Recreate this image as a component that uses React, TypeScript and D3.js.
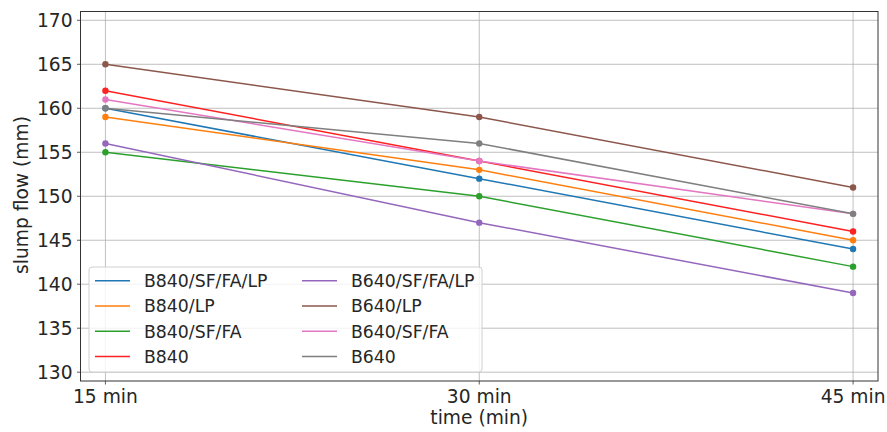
import React from "react";
import * as d3 from "d3";

const times = [15, 30, 45];
const timeLabels = ["15 min", "30 min", "45 min"];
const yTicks = [130, 135, 140, 145, 150, 155, 160, 165, 170];

const seriesNames = [
  "B840/SF/FA/LP",
  "B840/LP",
  "B840/SF/FA",
  "B840",
  "B640/SF/FA/LP",
  "B640/LP",
  "B640/SF/FA",
  "B640",
];
const b840SfFaLp = [160, 152, 144];
const b840Lp = [159, 153, 145];
const b840SfFa = [155, 150, 142];
const b840 = [162, 154, 146];
const b640SfFaLp = [156, 147, 139];
const b640Lp = [165, 159, 151];
const b640SfFa = [161, 154, 148];
const b640 = [160, 156, 148];
const seriesValues = [b840SfFaLp, b840Lp, b840SfFa, b840, b640SfFaLp, b640Lp, b640SfFa, b640];
const seriesColors = [
  "#1f77b4",
  "#ff7f0e",
  "#2ca02c",
  "#ff2020",
  "#9467bd",
  "#8c564b",
  "#e377c2",
  "#7f7f7f",
];

const W = 887;
const H = 432;
const M = { left: 80.5, right: 878, top: 11.5, bottom: 381 };
const FONT = "DejaVu Sans, sans-serif";
const TICK_FS = 18.67;
const LEGEND_FS = 17.3;

export default function App() {
  const x = d3.scaleLinear().domain([14, 46]).range([M.left, M.right]);
  const y = d3.scaleLinear().domain([129, 171]).range([M.bottom, M.top]);
  const line = d3
    .line<number>()
    .x((_, i) => x(times[i]))
    .y((v) => y(v));

  const legendX = 89;
  const legendY = 267;
  const rowH = 25.3;

  return (
    <svg width={W} height={H} style={{ position: "absolute", left: 0, top: 0, background: "#fff" }}>
      {/* grid */}
      <g stroke="#b0b0b0" strokeWidth={0.8}>
        {yTicks.map((t) => (
          <line key={"gy" + t} x1={M.left} x2={M.right} y1={y(t)} y2={y(t)} />
        ))}
        {times.map((t) => (
          <line key={"gx" + t} x1={x(t)} x2={x(t)} y1={M.top} y2={M.bottom} />
        ))}
      </g>

      {/* series */}
      {seriesValues.map((vals, s) => (
        <g key={seriesNames[s]}>
          <path d={line(vals) ?? ""} fill="none" stroke={seriesColors[s]} strokeWidth={1.5} />
          {vals.map((v, i) => (
            <circle key={i} cx={x(times[i])} cy={y(v)} r={3.2} fill={seriesColors[s]} />
          ))}
        </g>
      ))}

      {/* spines */}
      <rect
        x={M.left}
        y={M.top}
        width={M.right - M.left}
        height={M.bottom - M.top}
        fill="none"
        stroke="#333"
        strokeWidth={1}
      />

      {/* y ticks */}
      {yTicks.map((t) => (
        <g key={"ty" + t}>
          <line x1={M.left - 3.5} x2={M.left} y1={y(t)} y2={y(t)} stroke="#333" strokeWidth={0.8} />
          <text
            x={M.left - 8}
            y={y(t)}
            dy="0.36em"
            textAnchor="end"
            fontFamily={FONT}
            fontSize={TICK_FS}
            fill="#262626"
          >
            {t}
          </text>
        </g>
      ))}

      {/* x ticks */}
      {times.map((t, i) => (
        <g key={"tx" + t}>
          <line x1={x(t)} x2={x(t)} y1={M.bottom} y2={M.bottom + 3.5} stroke="#333" strokeWidth={0.8} />
          <text x={x(t)} y={403} textAnchor="middle" fontFamily={FONT} fontSize={TICK_FS} fill="#262626">
            {timeLabels[i]}
          </text>
        </g>
      ))}

      {/* axis labels */}
      <text x={(M.left + M.right) / 2} y={424} textAnchor="middle" fontFamily={FONT} fontSize={TICK_FS} fill="#262626">
        time (min)
      </text>
      <text
        transform={`translate(28,195) rotate(-90)`}
        textAnchor="middle"
        fontFamily={FONT}
        fontSize={TICK_FS}
        fill="#262626"
      >
        slump flow (mm)
      </text>

      {/* legend */}
      <rect
        x={legendX}
        y={legendY}
        width={393}
        height={105}
        rx={3}
        fill="#fff"
        fillOpacity={0.8}
        stroke="#d0d0d0"
        strokeWidth={1}
      />
      {seriesNames.map((name, s) => {
        const col = Math.floor(s / 4);
        const row = s % 4;
        const lx = col === 0 ? 95 : 302;
        const ly = 280.7 + row * rowH;
        return (
          <g key={"lg" + name}>
            <line x1={lx} x2={lx + 35} y1={ly} y2={ly} stroke={seriesColors[s]} strokeWidth={1.5} />
            <text x={lx + 49} y={ly} dy="0.36em" fontFamily={FONT} fontSize={LEGEND_FS} fill="#262626">
              {name}
            </text>
          </g>
        );
      })}
    </svg>
  );
}
